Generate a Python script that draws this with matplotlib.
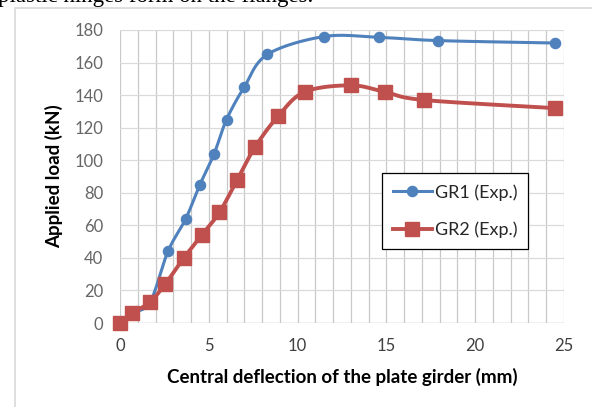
import numpy as np
import matplotlib
matplotlib.use("Agg")
import matplotlib.pyplot as plt
from matplotlib.patches import Rectangle

# Data
gr1_x = [0, 0.7, 1.7, 2.7, 3.7, 4.5, 5.3, 6.0, 7.0, 8.3, 11.5, 14.6, 17.9, 24.5]
gr1_y = [0, 6, 13, 44, 64, 85, 104, 125, 145, 165, 176, 175.5, 173.5, 172]
gr2_x = [0, 0.7, 1.7, 2.55, 3.6, 4.6, 5.6, 6.6, 7.6, 8.9, 10.4, 13.0, 14.9, 17.1, 24.5]
gr2_y = [0, 6, 13, 24, 40, 54, 68, 88, 108, 127, 142, 146, 142, 137, 132]
x_ticks = [0, 5, 10, 15, 20, 25]
y_ticks = [0, 20, 40, 60, 80, 100, 120, 140, 160, 180]
labels = ["GR1 (Exp.)", "GR2 (Exp.)"]

W, H = 592, 407
fig = plt.figure(figsize=(W / 100, H / 100), dpi=100)
plt.rcParams['font.family'] = ['Lato', 'DejaVu Sans']

# chart border and clipped caption text above
fig.patches.append(Rectangle((15 / W, -0.1), 1.2, 1.1 - 8 / H, transform=fig.transFigure,
                             fill=False, edgecolor='#d9d9d9', lw=1.2))
fig.text(-0.003, 1 - 1.8 / H, "plastic hinges form on the flanges.", family='Liberation Serif',
         fontsize=16.5, va='baseline', ha='left', color='black')

ax = fig.add_axes([120 / W, 1 - 323 / H, 444 / W, 293 / H])
ax.set_xlim(0, 25)
ax.set_ylim(0, 180)

sx, sy = 444 / 25, 293 / 180


def smooth(xs, ys, n=30):
    P = np.column_stack([np.array(xs) * sx, np.array(ys) * sy])
    out = []
    for i in range(len(P) - 1):
        p0 = P[i - 1] if i > 0 else P[i]
        p1 = P[i]
        p2 = P[i + 1]
        p3 = P[i + 2] if i + 2 < len(P) else P[i + 1]
        c1 = p1 + (p2 - p0) / 6
        c2 = p2 - (p3 - p1) / 6
        t = np.linspace(0, 1, n)[:, None]
        seg = ((1 - t) ** 3) * p1 + 3 * ((1 - t) ** 2) * t * c1 + 3 * (1 - t) * t ** 2 * c2 + t ** 3 * p2
        out.append(seg if i == 0 else seg[1:])
    out = np.vstack(out)
    return out[:, 0] / sx, out[:, 1] / sy


blue = '#4f81bd'
red = '#c0504d'
bx, by = smooth(gr1_x, gr1_y)
rx, ry = smooth(gr2_x, gr2_y)
ax.plot(bx, by, color=blue, lw=2.2, zorder=3, clip_on=False)
ax.plot(gr1_x, gr1_y, 'o', color=blue, ms=7.3, zorder=3, clip_on=False)
ax.plot(rx, ry, color=red, lw=2.8, zorder=4, clip_on=False)
ax.plot(gr2_x, gr2_y, 's', color=red, ms=10.5, zorder=4, clip_on=False)

# legend proxies
h1, = ax.plot([], [], '-o', color=blue, lw=2.2, ms=7.3)
h2, = ax.plot([], [], '-s', color=red, lw=2.8, ms=10.5)
leg = ax.legend([h1, h2], labels, loc='upper left', bbox_to_anchor=((381.7 - 120) / 444, 1 - (173.3 - 30) / 293),
                fontsize=13, frameon=True, fancybox=False, framealpha=1, edgecolor='black',
                borderpad=0.6, labelspacing=1.15, handlelength=2.2, handletextpad=0.15, borderaxespad=0)
leg.get_frame().set_linewidth(0.9)
for t in leg.get_texts():
    t.set_color('#262626')

# grid
for xv in range(0, 26):
    ax.axvline(xv, color='#c8c8c8', lw=0.9, zorder=1)
for yv in y_ticks:
    ax.axhline(yv, color='#dadada', lw=0.9, zorder=1)
ax.axhline(0, color='#c8c8c8', lw=1.0, zorder=1)

for s in ax.spines.values():
    s.set_visible(False)
ax.set_xticks(x_ticks)
ax.set_yticks(y_ticks)
ax.tick_params(length=0)
ax.tick_params(axis='x', pad=11, labelsize=12, labelcolor='#404040')
ax.tick_params(axis='y', pad=12, labelsize=12, labelcolor='#666666')

ax.set_xlabel("Central deflection of the plate girder (mm)", fontsize=13.5, fontweight='bold',
              color='black', labelpad=10)
ax.set_ylabel("Applied load (kN)", fontsize=13.5, fontweight='bold', color='black', labelpad=8)

fig.savefig("out.png", dpi=100)
